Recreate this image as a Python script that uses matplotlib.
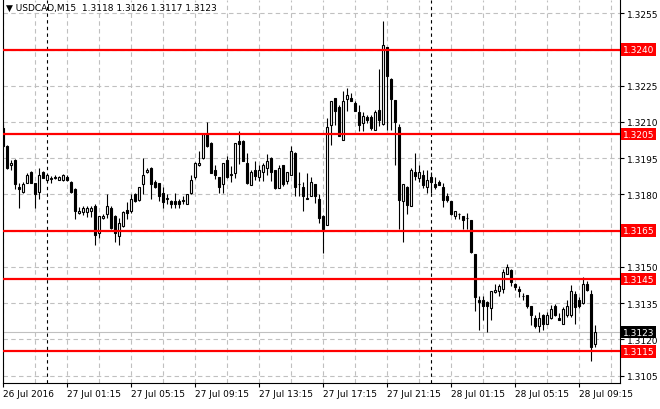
import matplotlib.pyplot as plt
import matplotlib.transforms as mtransforms
import numpy as np

# USDCAD M15 candles, 26 Jul 21:15 -> 28 Jul 10:15
opens = [1.32077, 1.32001, 1.31922, 1.31943, 1.31832, 1.31809, 1.31849, 1.31894, 1.31846, 1.31812,
         1.31894, 1.31860, 1.31866, 1.31870, 1.31860, 1.31860, 1.31874, 1.31853, 1.31823, 1.31722,
         1.31729, 1.31729, 1.31732, 1.31754, 1.31641, 1.31701, 1.31718, 1.31745, 1.31712, 1.31628,
         1.31668, 1.31734, 1.31730, 1.31801, 1.31777, 1.31843, 1.31893, 1.31911, 1.31853, 1.31846,
         1.31805, 1.31783, 1.31774, 1.31774, 1.31774, 1.31774, 1.31759, 1.31807, 1.31872, 1.31922,
         1.31950, 1.32049, 1.32014, 1.31901, 1.31872, 1.31843, 1.31943, 1.31882, 1.31890, 1.32023,
         1.32023, 1.31930, 1.31841, 1.31900, 1.31871, 1.31892, 1.31910, 1.31951, 1.31900, 1.31827,
         1.31921, 1.31857, 1.31882, 1.31972, 1.31843, 1.31830, 1.31783, 1.31792, 1.31843, 1.31783,
         1.31712, 1.31675, 1.32089, 1.32199, 1.32161, 1.32027, 1.32197, 1.32199, 1.32179, 1.32140,
         1.32096, 1.32119, 1.32119, 1.32068, 1.32148, 1.32092, 1.32409, 1.32278, 1.32190, 1.32078,
         1.31772, 1.31831, 1.31751, 1.31893, 1.31868, 1.31879, 1.31830, 1.31871, 1.31843, 1.31850,
         1.31831, 1.31792, 1.31772, 1.31709, 1.31720, 1.31709, 1.31703, 1.31693, 1.31553, 1.31364,
         1.31362, 1.31355, 1.31332, 1.31398, 1.31401, 1.31410, 1.31472, 1.31489, 1.31431, 1.31410,
         1.31379, 1.31383, 1.31337, 1.31290, 1.31254, 1.31300, 1.31265, 1.31290, 1.31337, 1.31290,
         1.31265, 1.31300, 1.31300, 1.31390, 1.31362, 1.31351, 1.31428, 1.31390, 1.31180]
highs = [1.32090, 1.32003, 1.31943, 1.31945, 1.31849, 1.31851, 1.31890, 1.31896, 1.31849, 1.31911,
         1.31897, 1.31886, 1.31875, 1.31881, 1.31876, 1.31883, 1.31881, 1.31856, 1.31826, 1.31748,
         1.31754, 1.31751, 1.31751, 1.31762, 1.31712, 1.31718, 1.31802, 1.31752, 1.31714, 1.31704,
         1.31733, 1.31769, 1.31802, 1.31807, 1.31832, 1.31952, 1.31911, 1.31914, 1.31858, 1.31849,
         1.31832, 1.31801, 1.31776, 1.31805, 1.31783, 1.31794, 1.31802, 1.31882, 1.31935, 1.31980,
         1.32052, 1.32100, 1.32017, 1.31920, 1.31874, 1.31932, 1.31959, 1.31918, 1.32014, 1.32061,
         1.32026, 1.31972, 1.31903, 1.31940, 1.31921, 1.31930, 1.31968, 1.31953, 1.31902, 1.31921,
         1.31923, 1.31892, 1.32000, 1.31974, 1.31892, 1.31852, 1.31889, 1.31871, 1.31845, 1.31802,
         1.31714, 1.32117, 1.32188, 1.32201, 1.32172, 1.32230, 1.32241, 1.32220, 1.32186, 1.32170,
         1.32140, 1.32130, 1.32130, 1.32151, 1.32319, 1.32517, 1.32411, 1.32280, 1.32192, 1.32092,
         1.31843, 1.31833, 1.31910, 1.31972, 1.31923, 1.31903, 1.31903, 1.31892, 1.31871, 1.31859,
         1.31847, 1.31806, 1.31774, 1.31730, 1.31722, 1.31711, 1.31723, 1.31695, 1.31555, 1.31378,
         1.31379, 1.31357, 1.31401, 1.31431, 1.31431, 1.31493, 1.31511, 1.31491, 1.31433, 1.31420,
         1.31393, 1.31385, 1.31339, 1.31300, 1.31314, 1.31304, 1.31314, 1.31341, 1.31348, 1.31310,
         1.31334, 1.31362, 1.31424, 1.31401, 1.31376, 1.31459, 1.31442, 1.31404, 1.31260]
lows = [1.31997, 1.31904, 1.31900, 1.31821, 1.31743, 1.31806, 1.31846, 1.31846, 1.31743, 1.31780,
        1.31867, 1.31856, 1.31847, 1.31862, 1.31858, 1.31857, 1.31856, 1.31807, 1.31697, 1.31718,
        1.31715, 1.31707, 1.31707, 1.31591, 1.31620, 1.31699, 1.31704, 1.31659, 1.31603, 1.31591,
        1.31665, 1.31700, 1.31725, 1.31769, 1.31773, 1.31801, 1.31890, 1.31783, 1.31827, 1.31773,
        1.31744, 1.31759, 1.31744, 1.31744, 1.31744, 1.31759, 1.31759, 1.31802, 1.31863, 1.31918,
        1.31946, 1.31996, 1.31887, 1.31863, 1.31807, 1.31807, 1.31868, 1.31852, 1.31868, 1.31926,
        1.31937, 1.31843, 1.31841, 1.31858, 1.31854, 1.31854, 1.31882, 1.31854, 1.31824, 1.31827,
        1.31833, 1.31843, 1.31882, 1.31792, 1.31792, 1.31730, 1.31783, 1.31792, 1.31765, 1.31682,
        1.31558, 1.31675, 1.32006, 1.32089, 1.32041, 1.32027, 1.32147, 1.32185, 1.32144, 1.32061,
        1.32061, 1.32096, 1.32068, 1.32065, 1.32082, 1.32089, 1.32068, 1.32068, 1.31921, 1.31657,
        1.31602, 1.31719, 1.31751, 1.31861, 1.31850, 1.31827, 1.31806, 1.31806, 1.31823, 1.31841,
        1.31748, 1.31767, 1.31716, 1.31698, 1.31698, 1.31657, 1.31657, 1.31558, 1.31319, 1.31240,
        1.31279, 1.31231, 1.31282, 1.31394, 1.31381, 1.31392, 1.31469, 1.31420, 1.31406, 1.31376,
        1.31362, 1.31328, 1.31258, 1.31248, 1.31231, 1.31241, 1.31262, 1.31286, 1.31296, 1.31279,
        1.31262, 1.31293, 1.31293, 1.31265, 1.31328, 1.31348, 1.31400, 1.31111, 1.31170]
closes = [1.32001, 1.31908, 1.31930, 1.31842, 1.31821, 1.31843, 1.31880, 1.31849, 1.31801, 1.31880,
          1.31870, 1.31880, 1.31867, 1.31871, 1.31874, 1.31880, 1.31859, 1.31810, 1.31732, 1.31732,
          1.31744, 1.31744, 1.31746, 1.31632, 1.31710, 1.31710, 1.31752, 1.31662, 1.31639, 1.31683,
          1.31726, 1.31722, 1.31783, 1.31773, 1.31832, 1.31882, 1.31901, 1.31842, 1.31830, 1.31794,
          1.31770, 1.31784, 1.31759, 1.31759, 1.31759, 1.31775, 1.31802, 1.31858, 1.31932, 1.31932,
          1.32049, 1.31999, 1.31890, 1.31879, 1.31830, 1.31932, 1.31872, 1.31883, 1.32014, 1.32009,
          1.31940, 1.31847, 1.31892, 1.31878, 1.31900, 1.31921, 1.31940, 1.31892, 1.31827, 1.31910,
          1.31843, 1.31892, 1.31979, 1.31830, 1.31844, 1.31792, 1.31784, 1.31852, 1.31792, 1.31703,
          1.31657, 1.32078, 1.32188, 1.32147, 1.32041, 1.32188, 1.32210, 1.32188, 1.32144, 1.32089,
          1.32126, 1.32110, 1.32075, 1.32140, 1.32110, 1.32417, 1.32289, 1.32197, 1.32100, 1.31778,
          1.31843, 1.31758, 1.31903, 1.31878, 1.31892, 1.31841, 1.31859, 1.31850, 1.31830, 1.31841,
          1.31778, 1.31778, 1.31720, 1.31730, 1.31721, 1.31693, 1.31704, 1.31560, 1.31374, 1.31353,
          1.31337, 1.31337, 1.31401, 1.31403, 1.31423, 1.31479, 1.31500, 1.31438, 1.31417, 1.31401,
          1.31380, 1.31337, 1.31300, 1.31254, 1.31289, 1.31265, 1.31300, 1.31327, 1.31300, 1.31279,
          1.31327, 1.31337, 1.31401, 1.31334, 1.31337, 1.31428, 1.31403, 1.31169, 1.31230]

levels = [1.3240, 1.3205, 1.3165, 1.3145, 1.3115]
last_price = 1.3123
price_ticks = [1.3105, 1.3120, 1.3135, 1.3150, 1.3165, 1.3180, 1.3195, 1.3210, 1.3225, 1.3240, 1.3255]
time_labels = ['26 Jul 2016', '27 Jul 01:15', '27 Jul 05:15', '27 Jul 09:15', '27 Jul 13:15',
               '27 Jul 17:15', '27 Jul 21:15', '28 Jul 01:15', '28 Jul 05:15', '28 Jul 09:15']
day_starts = [11, 107]  # 27 Jul 00:00, 28 Jul 00:00

o = np.array(opens)
h = np.array(highs)
l = np.array(lows)
c = np.array(closes)
x = np.arange(len(o))
up = c >= o

fig = plt.figure(figsize=(6.6, 4.1), dpi=100)
ax = fig.add_axes([3/660, 26/410, 617/660, 383/410])

ax.vlines(x, l, h, color='black', linewidth=0.8, zorder=3)
ax.bar(x[up], (c - o)[up], bottom=o[up], width=0.5, color='white',
       edgecolor='black', linewidth=0.8, zorder=4)
ax.bar(x[~up], (o - c)[~up], bottom=c[~up], width=0.5, color='black',
       edgecolor='black', linewidth=0.8, zorder=4)

for lv in levels:
    ax.axhline(lv, color='red', linewidth=1.6, zorder=5)
ax.axhline(last_price, color='#c0c0c0', linewidth=0.8, zorder=1)
for d in day_starts:
    ax.axvline(d, color='black', linewidth=0.8, linestyle=(0, (3, 3)), zorder=1)

ax.set_xlim(-0.1, 154.2)
ax.set_ylim(1.310196, 1.326049)

# grid
ax.set_xticks(np.arange(0, len(time_labels) * 16, 16))
ax.set_xticklabels(time_labels, ha='left', fontsize=6.5)
ax.set_xticks(np.arange(8, 160, 16), minor=True)
ax.set_yticks(price_ticks)
ax.set_yticklabels(['' if p in (1.3240, 1.3165) else f'{p:.4f}' for p in price_ticks], fontsize=6.5)
ax.yaxis.tick_right()
ax.grid(True, which='both', color='#c0c0c0', linestyle=(0, (4, 3)), linewidth=0.8, zorder=0)
ax.set_axisbelow(True)
ax.tick_params(axis='x', which='major', length=3, pad=1, direction='out')
ax.tick_params(axis='x', which='minor', length=0)
ax.tick_params(axis='y', length=3, pad=2, direction='out')
ax.spines['top'].set_visible(False)

trans = mtransforms.blended_transform_factory(ax.transAxes, ax.transData)
for lv in levels:
    ax.text(1.0 + 3/617, lv, f'{lv:.4f}', transform=trans, color='white', fontsize=6.5,
            va='center', ha='left', clip_on=False, zorder=10,
            bbox=dict(boxstyle='square,pad=0.2', fc='red', ec='none'))
ax.text(1.0 + 3/617, last_price, f'{last_price:.4f}', transform=trans, color='white',
        fontsize=6.5, va='center', ha='left', clip_on=False, zorder=10,
        bbox=dict(boxstyle='square,pad=0.2', fc='black', ec='none'))

fig.text(6/660, 1 - 8/410, '\u25bc USDCAD,M15  1.3118 1.3126 1.3117 1.3123',
         fontsize=6.5, va='center', ha='left')

fig.savefig('out.png', dpi=100)
